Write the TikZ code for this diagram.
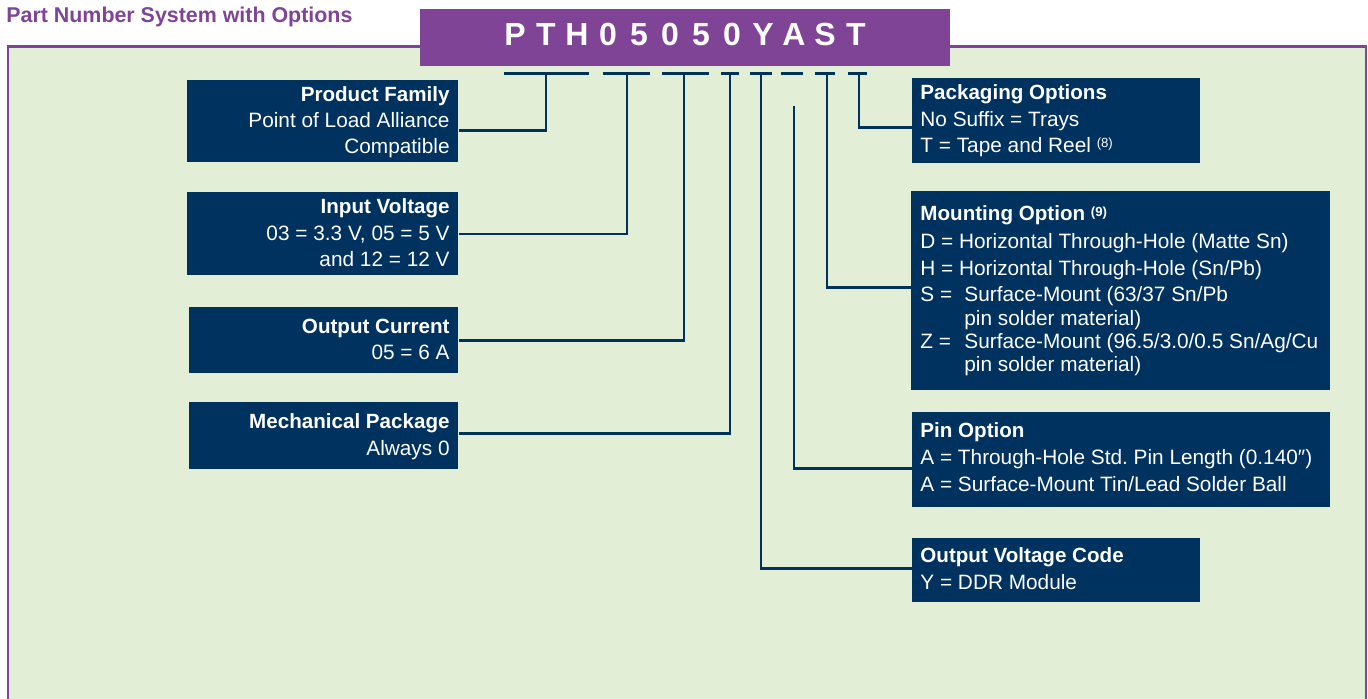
\documentclass[tikz,border=0pt]{standalone}
\usepackage{fontspec}
\setmainfont{Liberation Sans}
\frenchspacing
\definecolor{ppl}{RGB}{128,68,151}
\definecolor{pgreen}{RGB}{226,239,214}
\definecolor{navy}{RGB}{0,50,95}
\newcommand\rgf{\fontsize{10.4pt}{12pt}\selectfont}
\newcommand\bdf{\fontsize{10.3pt}{12pt}\selectfont\bfseries}
\newcommand\supx[1]{\raisebox{2.25pt}{\fontsize{6.6pt}{7pt}\selectfont #1}}
\begin{document}
\begin{tikzpicture}[x=0.5pt,y=-0.5pt,
  box/.style={fill=navy,draw=none,inner sep=0,anchor=north west},
  tl/.style={text=white,inner sep=0,font=\bdf},
  ln/.style={text=white,inner sep=0,font=\rgf},
  conn/.style={draw=navy,line width=1.35pt},
  bar/.style={draw=navy,line width=1.35pt},
  letter/.style={text=white,inner sep=0,anchor=base,font=\fontsize{16pt}{18pt}\selectfont\bfseries}]
\useasboundingbox (0,0) rectangle (1368,699);
% panel
\fill[pgreen] (8,46.5) rectangle (1366,700);
\draw[ppl,line width=1.25pt] (8,702) -- (8,46.5) -- (1366,46.5) -- (1366,702);
% heading
\node[anchor=base west,inner sep=0,text=ppl,font=\fontsize{10.7pt}{12pt}\selectfont\bfseries] (head) at (6,23) {Part Number System with Options};
% title bar
\node[fill=ppl,inner sep=0,anchor=north west,minimum width=265pt,minimum height=28.5pt] (tbar) at (420,9) {};
\foreach \c [count=\i from 0] in {P,T,H,0,5,0,5,0,Y,A,S,T}{
  \node[letter] (L\i) at (515+31*\i,46) {\c};
}
% underscores
\draw[bar] (504,73.5) -- (589,73.5);
\draw[bar] (603,73.5) -- (650,73.5);
\draw[bar] (662,73.5) -- (709,73.5);
\draw[bar] (721,73.5) -- (739,73.5);
\draw[bar] (750,73.5) -- (772,73.5);
\draw[bar] (781,73.5) -- (803,73.5);
\draw[bar] (815,73.5) -- (835,73.5);
\draw[bar] (848,73.5) -- (867,73.5);
\coordinate (t1) at (546,73.5);
\coordinate (t2) at (627,73.5);
\coordinate (t3) at (684,73.5);
\coordinate (t4) at (730,73.5);
\coordinate (t5) at (761,73.5);
\coordinate (t6) at (794,106);
\coordinate (t7) at (827,73.5);
\coordinate (t8) at (859,73.5);
% boxes
\node[box,minimum width=135.5pt,minimum height=41pt] (pf) at (187,80) {};
\node[box,minimum width=135.5pt,minimum height=41.5pt] (iv) at (187,192) {};
\node[box,minimum width=134.5pt,minimum height=33pt] (oc) at (189,307) {};
\node[box,minimum width=134.5pt,minimum height=33.5pt] (mp) at (189,402) {};
\node[box,minimum width=144pt,minimum height=42.5pt] (pk) at (912,78) {};
\node[box,minimum width=209.5pt,minimum height=99.5pt] (mo) at (911,191) {};
\node[box,minimum width=209pt,minimum height=47.5pt] (po) at (912,412) {};
\node[box,minimum width=144pt,minimum height=32pt] (ov) at (912,538) {};
% connectors
\draw[conn] (t1) |- ([yshift=-4.5pt]pf.east);
\draw[conn] (t2) |- (iv.east);
\draw[conn] (t3) |- (oc.east);
\draw[conn] (t4) |- ([yshift=1.25pt]mp.east);
\draw[conn] (t5) |- ([yshift=1pt]ov.west);
\draw[conn] (t6) |- ([yshift=-4.25pt]po.west);
\draw[conn] (t7) |- ([yshift=1.75pt]mo.west);
\draw[conn] (t8) |- ([yshift=-3.25pt]pk.west);
% left texts
\node[tl,anchor=base east] (pf1) at (450,101.5) {Product Family};
\node[ln,anchor=base east] (pf2) at (450,127.5) {Point of Load Alliance};
\node[ln,anchor=base east] (pf3) at (450,154) {Compatible};
\node[tl,anchor=base east] (iv1) at (450,214) {Input Voltage};
\node[ln,anchor=base east] (iv2) at (450,240.5) {03 = 3.3 V, 05 = 5 V};
\node[ln,anchor=base east] (iv3) at (450,267) {and 12 = 12 V};
\node[tl,anchor=base east] (oc1) at (450,333.5) {Output Current};
\node[ln,anchor=base east] (oc2) at (450,359.5) {05 = 6 A};
\node[tl,anchor=base east] (mp1) at (450,428.5) {Mechanical Package};
\node[ln,anchor=base east] (mp2) at (450,455) {Always 0};
% right texts
\node[tl,anchor=base west] (pk1) at (920,99.5) {Packaging Options};
\node[ln,anchor=base west] (pk2) at (920,126.5) {No Suffix = Trays};
\node[ln,anchor=base west] (pk3) at (920,152.5) {T = Tape and Reel \supx{(8)}};
\node[tl,anchor=base west] (mo1) at (920,221) {Mounting Option \supx{\bfseries(9)}};
\node[ln,anchor=base west] (mo2) at (920,249) {D = Horizontal Through-Hole (Matte Sn)};
\node[ln,anchor=base west] (mo3) at (920,276) {H = Horizontal Through-Hole (Sn/Pb)};
\node[ln,anchor=base west] (mo4) at (920,302) {S =};
\node[ln,anchor=base west] (mo4b) at (964,302) {Surface-Mount (63/37 Sn/Pb};
\node[ln,anchor=base west] (mo5) at (964,325.5) {pin solder material)};
\node[ln,anchor=base west] (mo6) at (920,348.5) {Z =};
\node[ln,anchor=base west] (mo6b) at (964,348.5) {Surface-Mount (96.5/3.0/0.5 Sn/Ag/Cu};
\node[ln,anchor=base west] (mo7) at (964,371.5) {pin solder material)};
\node[tl,anchor=base west] (po1) at (920,437.5) {Pin Option};
\node[ln,anchor=base west] (po2) at (920,464.5) {A = Through-Hole Std. Pin Length (0.140\char"2033)};
\node[ln,anchor=base west] (po3) at (920,491) {A = Surface-Mount Tin/Lead Solder Ball};
\node[tl,anchor=base west] (ov1) at (920,562.5) {Output Voltage Code};
\node[ln,anchor=base west] (ov2) at (920,589.5) {Y = DDR Module};
\end{tikzpicture}
\end{document}
